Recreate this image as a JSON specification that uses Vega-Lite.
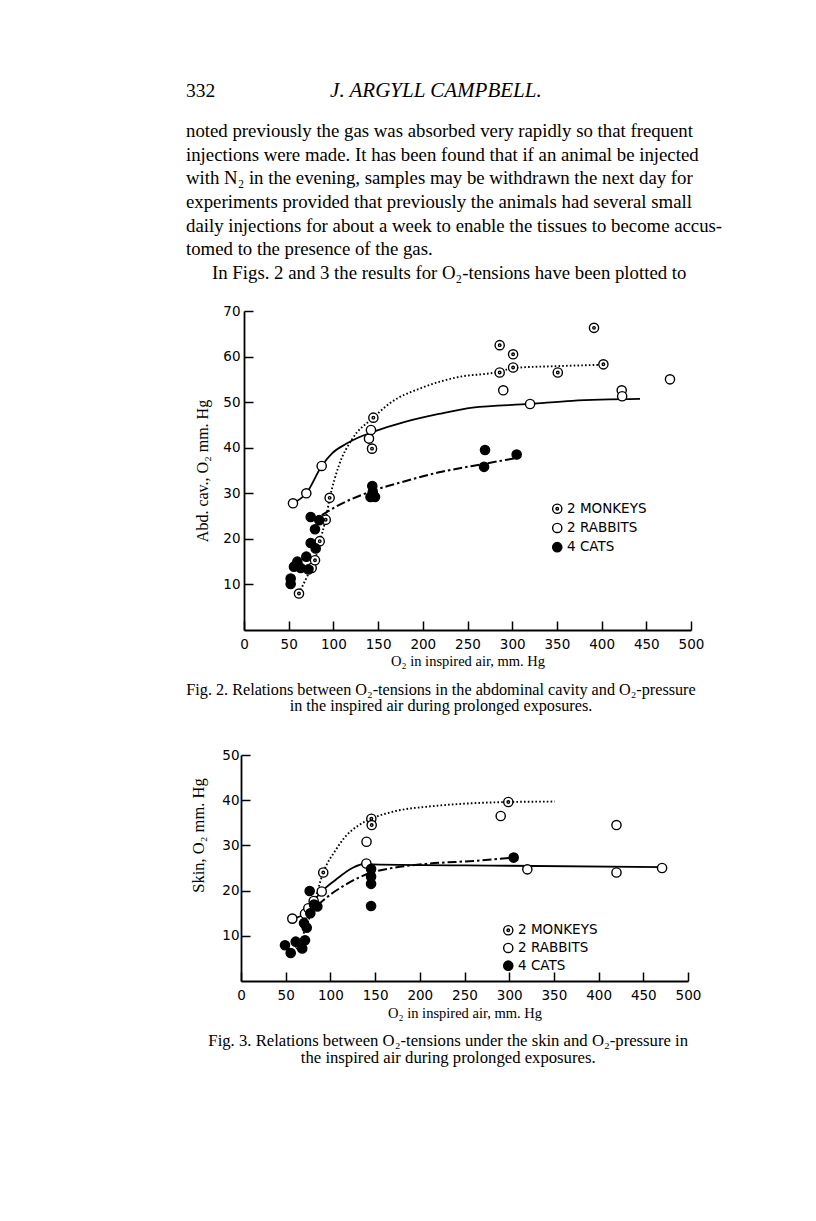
{
  "$schema": "https://vega.github.io/schema/vega-lite/v6.json",
  "background": "white",
  "padding": {"left": 184, "top": 80, "right": 10, "bottom": 10},
  "spacing": 13,
  "title": {
    "text": ["Fig. 3.  Relations between O₂-tensions under the skin and O₂-pressure in", "the inspired air during prolonged exposures."],
    "orient": "bottom", "anchor": "middle", "frame": "bounds", "offset": 13, "dx": -5,
    "font": "Liberation Serif", "fontSize": 16.7, "fontWeight": "normal", "lineHeight": 17, "color": "black"
  },
  "resolve": {
    "scale": {"x": "independent", "y": "independent", "fill": "independent", "shape": "independent"},
    "legend": {"fill": "independent", "shape": "independent"}
  },
  "config": {
    "view": {"stroke": null},
    "axis": {
      "grid": false, "domainColor": "black", "domainWidth": 1.8, "tickColor": "black", "tickWidth": 1.5, "tickSize": -9,
      "labelColor": "black", "labelFont": "DejaVu Sans", "labelFontSize": 13.5, "labelFlush": false, "labelOverlap": false, "labelBound": false,
      "titleColor": "black", "titleFont": "Liberation Serif", "titleFontWeight": "normal", "titleFontSize": 14.5
    },
    "legend": {
      "orient": "none", "padding": 0, "labelFont": "DejaVu Sans", "labelFontSize": 13.5, "labelColor": "black",
      "symbolStrokeColor": "black", "symbolStrokeWidth": 1.4, "symbolSize": 85, "labelOffset": 3, "symbolOpacity": 1
    },
    "title": {"font": "Liberation Serif", "fontWeight": "normal", "color": "black"}
  },
  "datasets": {
    "page": [
      {"kind": "page", "text": "332"},
      {"kind": "head", "text": "J. ARGYLL CAMPBELL."},
      {"kind": "para", "line": 0, "text": "noted previously the gas was absorbed very rapidly so that frequent"},
      {"kind": "para", "line": 1, "text": "injections were made.  It has been found that if an animal be injected"},
      {"kind": "para", "line": 2, "text": "with N₂ in the evening, samples may be withdrawn the next day for"},
      {"kind": "para", "line": 3, "text": "experiments provided that previously the animals had several small"},
      {"kind": "para", "line": 4, "text": "daily injections for about a week to enable the tissues to become accus-"},
      {"kind": "para", "line": 5, "text": "tomed to the presence of the gas."},
      {"kind": "indent", "line": 6, "text": "In Figs. 2 and 3 the results for O₂-tensions have been plotted to"}
    ],
    "pts1": [
      {"a": "2 MONKEYS", "x": 61.5, "y": 8}, {"a": "2 MONKEYS", "x": 75.7, "y": 13.6}, {"a": "2 MONKEYS", "x": 79.4, "y": 15.3},
      {"a": "2 MONKEYS", "x": 84.7, "y": 19.5}, {"a": "2 MONKEYS", "x": 91.4, "y": 24.2}, {"a": "2 MONKEYS", "x": 95.8, "y": 29},
      {"a": "2 MONKEYS", "x": 144.7, "y": 46.6}, {"a": "2 MONKEYS", "x": 143.2, "y": 39.8}, {"a": "2 MONKEYS", "x": 286, "y": 62.5},
      {"a": "2 MONKEYS", "x": 301, "y": 60.5}, {"a": "2 MONKEYS", "x": 286, "y": 56.5}, {"a": "2 MONKEYS", "x": 301, "y": 57.6},
      {"a": "2 MONKEYS", "x": 351, "y": 56.5}, {"a": "2 MONKEYS", "x": 391.5, "y": 66.3}, {"a": "2 MONKEYS", "x": 402, "y": 58.3},
      {"a": "2 RABBITS", "x": 54.8, "y": 27.8}, {"a": "2 RABBITS", "x": 69.7, "y": 30}, {"a": "2 RABBITS", "x": 86.9, "y": 36},
      {"a": "2 RABBITS", "x": 139.8, "y": 42}, {"a": "2 RABBITS", "x": 142, "y": 43.9}, {"a": "2 RABBITS", "x": 290, "y": 52.6},
      {"a": "2 RABBITS", "x": 320, "y": 49.6}, {"a": "2 RABBITS", "x": 422.5, "y": 52.6}, {"a": "2 RABBITS", "x": 423, "y": 51.3},
      {"a": "2 RABBITS", "x": 476.5, "y": 55},
      {"a": "4 CATS", "x": 74.6, "y": 24.8}, {"a": "4 CATS", "x": 84.2, "y": 24.1}, {"a": "4 CATS", "x": 79.4, "y": 22.1},
      {"a": "4 CATS", "x": 74.6, "y": 19.1}, {"a": "4 CATS", "x": 80.2, "y": 17.9}, {"a": "4 CATS", "x": 69.7, "y": 16.1},
      {"a": "4 CATS", "x": 59.7, "y": 15}, {"a": "4 CATS", "x": 55.9, "y": 13.9}, {"a": "4 CATS", "x": 63.4, "y": 13.6},
      {"a": "4 CATS", "x": 72, "y": 13.3}, {"a": "4 CATS", "x": 52.2, "y": 11.3}, {"a": "4 CATS", "x": 52.2, "y": 10.1},
      {"a": "4 CATS", "x": 143.5, "y": 31.6}, {"a": "4 CATS", "x": 141.5, "y": 29.2}, {"a": "4 CATS", "x": 146.5, "y": 29.2},
      {"a": "4 CATS", "x": 144, "y": 30.2}, {"a": "4 CATS", "x": 269.6, "y": 39.5}, {"a": "4 CATS", "x": 268.5, "y": 35.8},
      {"a": "4 CATS", "x": 305, "y": 38.5}
    ],
    "crv1": [
      {"a": "2 MONKEYS", "x": 61.5, "y": 8}, {"a": "2 MONKEYS", "x": 70, "y": 11.5}, {"a": "2 MONKEYS", "x": 79.4, "y": 15.3},
      {"a": "2 MONKEYS", "x": 85, "y": 19.5}, {"a": "2 MONKEYS", "x": 91, "y": 24}, {"a": "2 MONKEYS", "x": 96, "y": 29},
      {"a": "2 MONKEYS", "x": 106, "y": 36}, {"a": "2 MONKEYS", "x": 121, "y": 41.9}, {"a": "2 MONKEYS", "x": 144.7, "y": 46.6},
      {"a": "2 MONKEYS", "x": 162, "y": 49.6}, {"a": "2 MONKEYS", "x": 199.5, "y": 53.2}, {"a": "2 MONKEYS", "x": 237, "y": 55.4},
      {"a": "2 MONKEYS", "x": 286, "y": 56.7}, {"a": "2 MONKEYS", "x": 301, "y": 57.5}, {"a": "2 MONKEYS", "x": 350, "y": 57.9},
      {"a": "2 MONKEYS", "x": 402, "y": 58.2},
      {"a": "2 RABBITS", "x": 54.8, "y": 27.8}, {"a": "2 RABBITS", "x": 69.7, "y": 30}, {"a": "2 RABBITS", "x": 86.9, "y": 36},
      {"a": "2 RABBITS", "x": 98.8, "y": 38.8}, {"a": "2 RABBITS", "x": 113.8, "y": 40.8}, {"a": "2 RABBITS", "x": 128.6, "y": 42.3},
      {"a": "2 RABBITS", "x": 143.5, "y": 43.4}, {"a": "2 RABBITS", "x": 181, "y": 45.7}, {"a": "2 RABBITS", "x": 218, "y": 47.4},
      {"a": "2 RABBITS", "x": 255.5, "y": 48.8}, {"a": "2 RABBITS", "x": 320, "y": 49.6}, {"a": "2 RABBITS", "x": 367, "y": 50.3},
      {"a": "2 RABBITS", "x": 443, "y": 50.7},
      {"a": "4 CATS", "x": 87, "y": 25.2}, {"a": "4 CATS", "x": 106, "y": 27.4}, {"a": "4 CATS", "x": 143.5, "y": 30.5},
      {"a": "4 CATS", "x": 181, "y": 32.7}, {"a": "4 CATS", "x": 218, "y": 34.6}, {"a": "4 CATS", "x": 255.5, "y": 36},
      {"a": "4 CATS", "x": 304, "y": 37.7}
    ],
    "pts2": [
      {"a": "2 MONKEYS", "x": 92, "y": 24}, {"a": "2 MONKEYS", "x": 145.8, "y": 35.9}, {"a": "2 MONKEYS", "x": 146.2, "y": 34.5},
      {"a": "2 MONKEYS", "x": 299, "y": 39.6}, {"a": "2 MONKEYS", "x": 66, "y": 7.9},
      {"a": "2 RABBITS", "x": 57.4, "y": 13.8}, {"a": "2 RABBITS", "x": 71.6, "y": 14.9}, {"a": "2 RABBITS", "x": 75.3, "y": 16.1},
      {"a": "2 RABBITS", "x": 81.3, "y": 17.7}, {"a": "2 RABBITS", "x": 90.3, "y": 19.8}, {"a": "2 RABBITS", "x": 140.4, "y": 30.8},
      {"a": "2 RABBITS", "x": 140.2, "y": 26}, {"a": "2 RABBITS", "x": 290.5, "y": 36.5}, {"a": "2 RABBITS", "x": 320.3, "y": 24.7},
      {"a": "2 RABBITS", "x": 420, "y": 34.5}, {"a": "2 RABBITS", "x": 420, "y": 24}, {"a": "2 RABBITS", "x": 471, "y": 25},
      {"a": "4 CATS", "x": 76.8, "y": 19.9}, {"a": "4 CATS", "x": 81.7, "y": 16.9}, {"a": "4 CATS", "x": 85.4, "y": 16.5},
      {"a": "4 CATS", "x": 77.5, "y": 15}, {"a": "4 CATS", "x": 70.5, "y": 12.8}, {"a": "4 CATS", "x": 73.5, "y": 11.8},
      {"a": "4 CATS", "x": 49.2, "y": 7.9}, {"a": "4 CATS", "x": 55.6, "y": 6.2}, {"a": "4 CATS", "x": 61.2, "y": 8.7},
      {"a": "4 CATS", "x": 71.6, "y": 9}, {"a": "4 CATS", "x": 68.5, "y": 7.2}, {"a": "4 CATS", "x": 145.5, "y": 24.8},
      {"a": "4 CATS", "x": 145.5, "y": 23.1}, {"a": "4 CATS", "x": 145.5, "y": 21.5}, {"a": "4 CATS", "x": 145.5, "y": 16.6},
      {"a": "4 CATS", "x": 305, "y": 27.3}
    ],
    "crv2": [
      {"a": "2 MONKEYS", "x": 70, "y": 10.5}, {"a": "2 MONKEYS", "x": 80, "y": 16}, {"a": "2 MONKEYS", "x": 92, "y": 24},
      {"a": "2 MONKEYS", "x": 106, "y": 29}, {"a": "2 MONKEYS", "x": 117, "y": 32}, {"a": "2 MONKEYS", "x": 132, "y": 34.5},
      {"a": "2 MONKEYS", "x": 145.8, "y": 35.9}, {"a": "2 MONKEYS", "x": 173, "y": 37.6}, {"a": "2 MONKEYS", "x": 210, "y": 38.6},
      {"a": "2 MONKEYS", "x": 247.5, "y": 39.2}, {"a": "2 MONKEYS", "x": 299, "y": 39.6}, {"a": "2 MONKEYS", "x": 351, "y": 39.7},
      {"a": "2 RABBITS", "x": 57.4, "y": 13.8}, {"a": "2 RABBITS", "x": 71.6, "y": 14.9}, {"a": "2 RABBITS", "x": 75.3, "y": 16.1},
      {"a": "2 RABBITS", "x": 81.3, "y": 17.7}, {"a": "2 RABBITS", "x": 90.3, "y": 19.8}, {"a": "2 RABBITS", "x": 106, "y": 22.4},
      {"a": "2 RABBITS", "x": 124.5, "y": 25}, {"a": "2 RABBITS", "x": 140.2, "y": 26}, {"a": "2 RABBITS", "x": 146, "y": 25.8},
      {"a": "2 RABBITS", "x": 300, "y": 25.5}, {"a": "2 RABBITS", "x": 471, "y": 25.2},
      {"a": "4 CATS", "x": 86, "y": 16.8}, {"a": "4 CATS", "x": 102, "y": 19.4}, {"a": "4 CATS", "x": 117, "y": 21.3},
      {"a": "4 CATS", "x": 132, "y": 22.9}, {"a": "4 CATS", "x": 146, "y": 24}, {"a": "4 CATS", "x": 169, "y": 25},
      {"a": "4 CATS", "x": 206.6, "y": 25.9}, {"a": "4 CATS", "x": 262.5, "y": 26.6}, {"a": "4 CATS", "x": 305, "y": 27.3}
    ]
  },
  "vconcat": [
    {
      "width": 450, "height": 160,
      "data": {"name": "page"},
      "encoding": {
        "x": {"datum": 0, "type": "quantitative", "scale": {"domain": [0, 1], "range": [-55, 455]}, "axis": null}
      },
      "layer": [
        {
          "transform": [{"filter": "datum.kind === 'para'"}],
          "mark": {"type": "text", "align": "left", "baseline": "middle", "font": "Liberation Serif", "fontSize": 18.8, "color": "black"},
          "encoding": {
            "y": {"field": "line", "type": "quantitative", "scale": {"domain": [0, 6], "range": [0, 142]}, "axis": null},
            "text": {"field": "text"}
          }
        },
        {
          "transform": [{"filter": "datum.kind === 'indent'"}],
          "mark": {"type": "text", "align": "left", "baseline": "middle", "font": "Liberation Serif", "fontSize": 18.8, "color": "black"},
          "encoding": {
            "x": {"datum": 0.051, "type": "quantitative"},
            "y": {"field": "line", "type": "quantitative"},
            "text": {"field": "text"}
          }
        },
        {
          "transform": [{"filter": "datum.kind === 'page'"}],
          "mark": {"type": "text", "align": "left", "baseline": "middle", "font": "Liberation Serif", "fontSize": 19.5, "color": "black"},
          "encoding": {
            "y": {"datum": -1.68, "type": "quantitative"},
            "text": {"field": "text"}
          }
        },
        {
          "transform": [{"filter": "datum.kind === 'head'"}],
          "mark": {"type": "text", "align": "center", "baseline": "middle", "font": "Liberation Serif", "fontStyle": "italic", "fontSize": 21, "color": "black"},
          "encoding": {
            "x": {"datum": 0.49, "type": "quantitative"},
            "y": {"datum": -1.68, "type": "quantitative"},
            "text": {"field": "text"}
          }
        }
      ]
    },
    {
      "width": 450, "height": 319,
      "encoding": {
        "x": {"field": "x", "type": "quantitative", "scale": {"domain": [0, 500], "range": [3, 450], "nice": false},
              "axis": {"values": [0, 50, 100, 150, 200, 250, 300, 350, 400, 450, 500], "title": "O₂ in inspired air, mm. Hg", "labelPadding": 16, "titlePadding": 4}},
        "y": {"field": "y", "type": "quantitative", "scale": {"domain": [0, 70], "nice": false},
              "axis": {"values": [10, 20, 30, 40, 50, 60, 70], "title": "Abd. cav., O₂ mm. Hg", "offset": -3, "labelPadding": 13, "titlePadding": 12, "titleFontSize": 16}}
      },
      "layer": [
        {
          "data": {"name": "crv1"},
          "transform": [{"filter": "datum.a === '2 MONKEYS'"}],
          "mark": {"type": "line", "interpolate": "monotone", "color": "black", "strokeWidth": 1.9, "strokeDash": [1.6, 2.2]}
        },
        {
          "data": {"name": "crv1"},
          "transform": [{"filter": "datum.a === '2 RABBITS'"}],
          "mark": {"type": "line", "interpolate": "monotone", "color": "black", "strokeWidth": 1.8}
        },
        {
          "data": {"name": "crv1"},
          "transform": [{"filter": "datum.a === '4 CATS'"}],
          "mark": {"type": "line", "interpolate": "monotone", "color": "black", "strokeWidth": 2, "strokeDash": [9, 3, 2.5, 3]}
        },
        {
          "data": {"name": "pts1"},
          "mark": {"type": "point", "opacity": 1, "fillOpacity": 1, "stroke": "black", "strokeWidth": 1.4, "size": 85},
          "encoding": {
            "shape": {"field": "a", "type": "nominal",
              "scale": {"domain": ["2 MONKEYS", "2 RABBITS", "4 CATS"], "range": ["M-1,0A1,1,0,1,0,1,0A1,1,0,1,0,-1,0ZM-0.27,0A0.27,0.27,0,1,0,0.27,0A0.27,0.27,0,1,0,-0.27,0Z", "circle", "circle"]},
              "legend": {"title": null, "legendX": 309.5, "legendY": 191, "rowPadding": 3.2, "symbolStrokeColor": "black", "symbolStrokeWidth": 1.4,
                         "encode": {"symbols": {"update": {"stroke": {"value": "black"}, "strokeWidth": {"value": 1.4}}}}}},
            "fill": {"field": "a", "type": "nominal",
              "scale": {"domain": ["2 MONKEYS", "2 RABBITS", "4 CATS"], "range": ["white", "white", "black"]},
              "legend": {"title": null, "legendX": 309.5, "legendY": 191, "rowPadding": 3.2, "symbolStrokeColor": "black", "symbolStrokeWidth": 1.4,
                         "encode": {"symbols": {"update": {"stroke": {"value": "black"}, "strokeWidth": {"value": 1.4}}}}}}
          }
        }
      ]
    },
    {
      "width": 447, "height": 226,
      "title": {
        "text": ["Fig. 2.  Relations between O₂-tensions in the abdominal cavity and O₂-pressure", "in the inspired air during prolonged exposures."],
        "orient": "top", "anchor": "middle", "frame": "group", "offset": 33.5, "dx": -23.5,
        "font": "Liberation Serif", "fontSize": 16.2, "fontWeight": "normal", "lineHeight": 16.8, "color": "black"
      },
      "encoding": {
        "x": {"field": "x", "type": "quantitative", "scale": {"domain": [0, 500], "nice": false},
              "axis": {"values": [0, 50, 100, 150, 200, 250, 300, 350, 400, 450, 500], "title": "O₂ in inspired air, mm. Hg", "labelPadding": 16.5, "titlePadding": 4}},
        "y": {"field": "y", "type": "quantitative", "scale": {"domain": [0, 50], "nice": false},
              "axis": {"values": [10, 20, 30, 40, 50], "title": "Skin, O₂ mm. Hg", "labelPadding": 11, "titlePadding": 15, "titleFontSize": 16.5, "titleY": 80}}
      },
      "layer": [
        {
          "data": {"name": "crv2"},
          "transform": [{"filter": "datum.a === '2 MONKEYS'"}],
          "mark": {"type": "line", "interpolate": "monotone", "color": "black", "strokeWidth": 1.9, "strokeDash": [1.6, 2.2]}
        },
        {
          "data": {"name": "crv2"},
          "transform": [{"filter": "datum.a === '2 RABBITS'"}],
          "mark": {"type": "line", "interpolate": "monotone", "color": "black", "strokeWidth": 1.8}
        },
        {
          "data": {"name": "crv2"},
          "transform": [{"filter": "datum.a === '4 CATS'"}],
          "mark": {"type": "line", "interpolate": "monotone", "color": "black", "strokeWidth": 2, "strokeDash": [9, 3, 2.5, 3]}
        },
        {
          "data": {"name": "pts2"},
          "mark": {"type": "point", "opacity": 1, "fillOpacity": 1, "stroke": "black", "strokeWidth": 1.4, "size": 85},
          "encoding": {
            "shape": {"field": "a", "type": "nominal",
              "scale": {"domain": ["2 MONKEYS", "2 RABBITS", "4 CATS"], "range": ["M-1,0A1,1,0,1,0,1,0A1,1,0,1,0,-1,0ZM-0.27,0A0.27,0.27,0,1,0,0.27,0A0.27,0.27,0,1,0,-0.27,0Z", "circle", "circle"]},
              "legend": {"title": null, "legendX": 260.5, "legendY": 168.5, "rowPadding": 1.7, "symbolStrokeColor": "black", "symbolStrokeWidth": 1.4,
                         "encode": {"symbols": {"update": {"stroke": {"value": "black"}, "strokeWidth": {"value": 1.4}}}}}},
            "fill": {"field": "a", "type": "nominal",
              "scale": {"domain": ["2 MONKEYS", "2 RABBITS", "4 CATS"], "range": ["white", "white", "black"]},
              "legend": {"title": null, "legendX": 260.5, "legendY": 168.5, "rowPadding": 1.7, "symbolStrokeColor": "black", "symbolStrokeWidth": 1.4,
                         "encode": {"symbols": {"update": {"stroke": {"value": "black"}, "strokeWidth": {"value": 1.4}}}}}}
          }
        }
      ]
    }
  ]
}
